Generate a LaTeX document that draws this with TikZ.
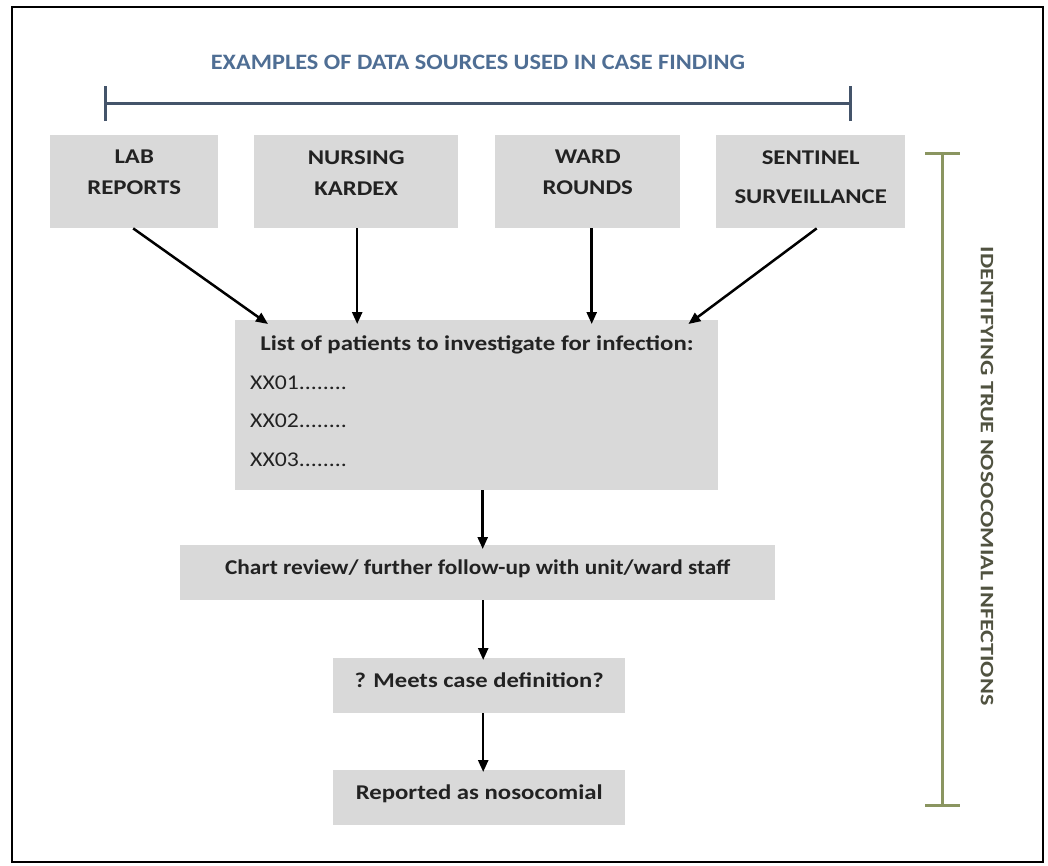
\documentclass[tikz,border=0pt]{standalone}
\usepackage{fontspec}
\setmainfont{Carlito}
\usetikzlibrary{arrows.meta}
\definecolor{boxgray}{HTML}{D9D9D9}
\definecolor{inkgray}{HTML}{222222}
\definecolor{slateblue}{HTML}{44546A}
\definecolor{titleblue}{HTML}{4F6E94}
\definecolor{olivebar}{HTML}{8A9560}
\definecolor{olivetext}{HTML}{505240}
% horizontal stretch of a piece of text
\newcommand{\hstretch}[2]{\scalebox{#1}[1]{#2}}
\tikzset{
  plainbox/.style={fill=boxgray, draw=none, anchor=north west, inner sep=0pt},
  srctext/.style={text=inkgray, align=center, inner sep=0pt,
    font=\bfseries\fontsize{21}{31}\selectfont},
  flowbox/.style={plainbox, text=inkgray, text height=12pt, text depth=9pt,
    font=\bfseries\fontsize{21}{24}\selectfont},
  itemtext/.style={text=inkgray, inner sep=0pt, font=\fontsize{21}{24}\selectfont},
  flowarrow/.style={-{Triangle[length=12pt,width=10pt]}, line width=2.5pt, black},
  bracket/.style={line width=3pt},
}
\begin{document}
\begin{tikzpicture}[x=1pt,y=-1pt]
\useasboundingbox (0,0) rectangle (1048,865);
% outer frame
\draw[line width=2.6pt, black] (12,7) rectangle (1043,862);

% top heading and its bracket
\node[text=titleblue, font=\bfseries\fontsize{22}{24}\selectfont] (title) at (478,62)
  {\hstretch{1.105}{EXAMPLES OF DATA SOURCES USED IN CASE FINDING}};
\coordinate (tl) at (105,103);
\coordinate (tr) at (850,103);
\draw[bracket, slateblue] (tl) -- (tr);
\draw[bracket, slateblue] ([yshift=-18]tl) -- ([yshift=17]tl);
\draw[bracket, slateblue] ([yshift=-18]tr) -- ([yshift=17]tr);

% data sources
\node[plainbox, minimum width=168, minimum height=93] (lab) at (50,135) {};
\node[plainbox, minimum width=204, minimum height=93] (kardex) at (254,135) {};
\node[plainbox, minimum width=185, minimum height=93] (ward) at (495,135) {};
\node[plainbox, minimum width=189, minimum height=93] (sentinel) at (716,135) {};
\node[srctext] (labtext) at ([yshift=9]lab.center) {\hstretch{1.18}{LAB}\\\hstretch{1.18}{REPORTS}};
\node[srctext] (kardextext) at ([yshift=9]kardex.center) {\hstretch{1.18}{NURSING}\\\hstretch{1.18}{KARDEX}};
\node[srctext] (wardtext) at ([yshift=9]ward.center) {\hstretch{1.18}{WARD}\\\hstretch{1.18}{ROUNDS}};
\node[srctext] (sentineltext) at ([yshift=5]sentinel.center) {\hstretch{1.18}{SENTINEL}\\[8pt]\hstretch{1.18}{SURVEILLANCE}};

% list of patients
\node[plainbox, minimum width=483, minimum height=170] (list) at (235,320) {};
\node[itemtext, font=\bfseries\fontsize{21}{24}\selectfont] (listhead) at (477,345)
  {\hstretch{1.18}{List of patients to investigate for infection:}};
\node[itemtext, anchor=west] (xx1) at (250,383) {\hstretch{1.13}{XX01........}};
\node[itemtext, anchor=west] (xx2) at (250,421) {\hstretch{1.13}{XX02........}};
\node[itemtext, anchor=west] (xx3) at (250,460) {\hstretch{1.13}{XX03........}};

% later steps
\node[flowbox, minimum width=595, minimum height=55] (chart) at (180,545)
  {\hstretch{1.11}{Chart review/ further follow-up with unit/ward staff}};
\node[flowbox, minimum width=292, minimum height=55] (meets) at (333,658)
  {\hstretch{1.17}{? Meets case definition?}};
\node[flowbox, minimum width=292, minimum height=55] (report) at (333,770)
  {\hstretch{1.18}{Reported as nosocomial}};

% connectors
\draw[flowarrow] ([xshift=-1]lab.south) -- ([xshift=33,yshift=-4]list.north west);
\draw[flowarrow] ([xshift=1]kardex.south) -- ([xshift=1,yshift=-4]kardex.south |- list.north);
\draw[flowarrow] ([xshift=4]ward.south) -- ([xshift=4,yshift=-4]ward.south |- list.north);
\draw[flowarrow] ([xshift=6]sentinel.south) -- ([xshift=-30,yshift=-4]list.north east);
\draw[flowarrow] ([xshift=6]list.south) -- ([xshift=6,yshift=-4]list.south |- chart.north);
\draw[flowarrow] ([xshift=4]meets.north |- chart.south) -- ([xshift=4,yshift=-2]meets.north);
\draw[flowarrow] ([xshift=4]meets.south) -- ([xshift=4,yshift=-2]report.north);

% side bracket and its label
\coordinate (bt) at (942,153);
\coordinate (bb) at (942,805);
\draw[bracket, olivebar] (bt) -- (bb);
\draw[bracket, olivebar] ([xshift=-17]bt) -- ([xshift=18]bt);
\draw[bracket, olivebar] ([xshift=-17]bb) -- ([xshift=18]bb);
\node[text=olivetext, rotate=-90, font=\bfseries\fontsize{19}{22}\selectfont] (sidelabel) at (987,476)
  {\hstretch{1.27}{IDENTIFYING TRUE NOSOCOMIAL INFECTIONS}};
\end{tikzpicture}
\end{document}
